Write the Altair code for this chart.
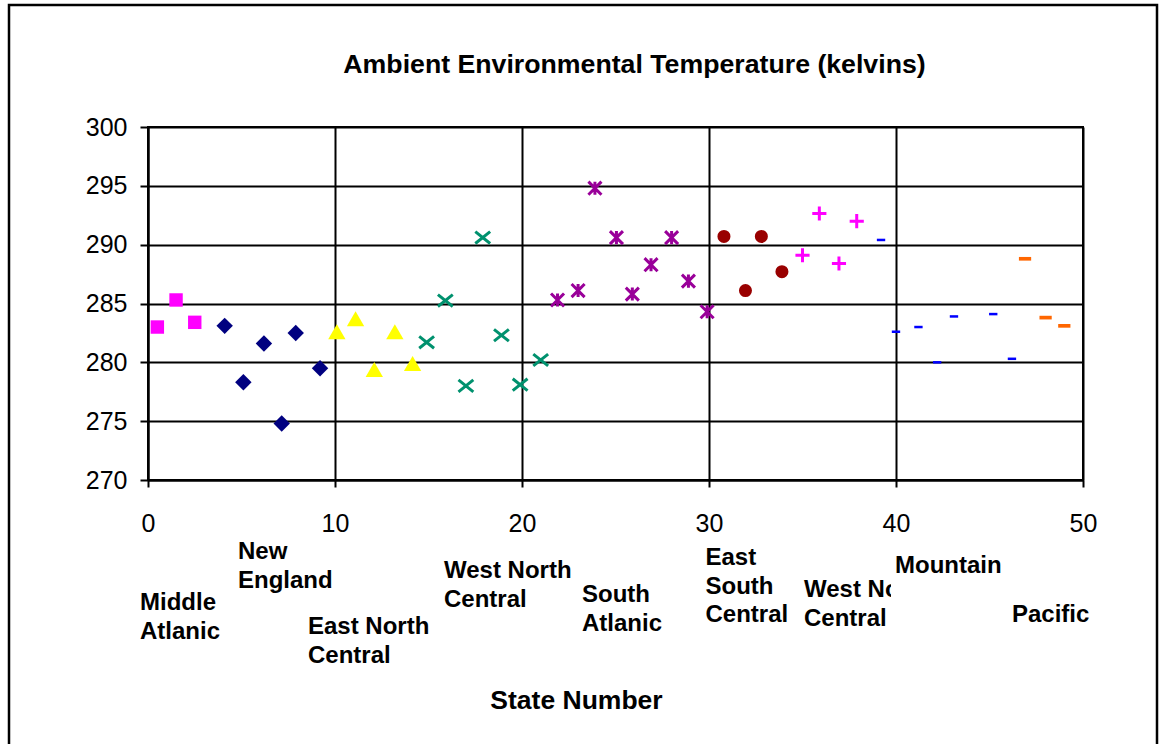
import altair as alt
import pandas as pd

# ---- data (state number, temperature in K) ----
ma_x = [0.5, 1.5, 2.5]
ma_y = [283.0, 285.3, 283.4]
ne_x = [4.1, 5.1, 6.2, 7.15, 7.9, 9.2]
ne_y = [283.1, 278.3, 281.6, 274.8, 282.5, 279.5]
enc_x = [10.1, 11.1, 12.1, 13.2, 14.15]
enc_y = [282.6, 283.7, 279.4, 282.6, 279.9]
wnc_x = [14.9, 15.9, 17.0, 17.9, 18.9, 19.9, 21.0]
wnc_y = [281.7, 285.25, 278.0, 290.6, 282.3, 278.1, 280.2]
sa_x = [21.9, 23.0, 23.9, 25.05, 25.9, 26.9, 28.0, 28.9, 29.9]
sa_y = [285.3, 286.1, 294.8, 290.6, 285.8, 288.3, 290.6, 286.9, 284.3]
esc_x = [30.8, 31.95, 32.8, 33.9]
esc_y = [290.7, 286.1, 290.7, 287.7]
wsc_x = [35.0, 35.9, 36.95, 37.9]
wsc_y = [289.1, 292.65, 288.4, 292.0]
mtn_x = [39.2, 40.0, 41.2, 42.2, 43.1, 45.2, 46.2]
mtn_y = [290.4, 282.6, 283.0, 280.0, 283.9, 284.1, 280.3]
pac_x = [46.9, 48.0, 49.0]
pac_y = [288.8, 283.8, 283.1]

series = ["MA", "NE", "ENC", "WNC", "SA", "ESC", "WSC", "MTN", "PAC"]
xs = [ma_x, ne_x, enc_x, wnc_x, sa_x, esc_x, wsc_x, mtn_x, pac_x]
ys = [ma_y, ne_y, enc_y, wnc_y, sa_y, esc_y, wsc_y, mtn_y, pac_y]
filled_series = ["MA", "NE", "ENC", "ESC", "MTN", "PAC"]
line_series = ["WNC", "SA", "WSC"]

colors = ["#FF00FF", "#000080", "#FFFF00", "#00916E", "#990099",
          "#990000", "#FF00FF", "#0000FF", "#FF6600"]
X_PATH = "M-1,-0.8L1,0.8M-1,0.8L1,-0.8"
AST_PATH = "M-1,-1L1,1M-1,1L1,-1M0,-1L0,1"
PLUS_PATH = "M-1,0L1,0M0,-1L0,1"
DASH_PATH = "M-1,-0.3L1,-0.3L1,0.3L-1,0.3Z"
shapes = ["square", "diamond", "triangle-up", X_PATH, AST_PATH,
          "circle", PLUS_PATH, DASH_PATH, DASH_PATH]
sizes = [180, 270, 300, 220, 170, 170, 200, 70, 150]

rows = []
for s, xx, yy in zip(series, xs, ys):
    for a, b in zip(xx, yy):
        rows.append({"series": s, "state": a, "temp": b})
df = pd.DataFrame(rows)

# region labels (text, left px, first-line baseline px) in page pixels
label_text = ["Middle\nAtlanic", "New\nEngland", "East North\nCentral",
              "West North\nCentral", "South\nAtlanic", "East\nSouth\nCentral",
              "West North\nCentral", "Mountain", "Pacific"]
label_px = [140, 238, 308, 444, 582, 705.5, 804, 895, 1012]
label_py = [610, 559, 634, 578, 602, 565, 597, 573, 622]
OX, OY = 148, 127
labels = pd.DataFrame({"t": label_text,
                       "px": [p - OX for p in label_px],
                       "py": [p - OY for p in label_py]})

FONT = "Liberation Sans"
W, H = 935, 353

x_enc = alt.X("state:Q", scale=alt.Scale(domain=[0, 50], nice=False, zero=False),
              axis=alt.Axis(values=[0, 10, 20, 30, 40, 50], title="State Number",
                            grid=True, gridColor="black", gridWidth=2, gridOpacity=1,
                            domainColor="black", domainWidth=2,
                            tickColor="black", tickWidth=2, tickSize=7,
                            labelFont=FONT, labelFontSize=25, labelColor="black",
                            labelPadding=24, labelFlush=False,
                            titleFont=FONT, titleFontSize=26.5, titleFontWeight="bold",
                            titleColor="black", titleX=428, titleY=228,
                            titleBaseline="alphabetic", titleAnchor="middle", titleAlign="center"))
y_enc = alt.Y("temp:Q", scale=alt.Scale(domain=[270, 300], nice=False, zero=False),
              axis=alt.Axis(values=[270, 275, 280, 285, 290, 295, 300], title=None,
                            grid=True, gridColor="black", gridWidth=2, gridOpacity=1,
                            domainColor="black", domainWidth=2,
                            tickColor="black", tickWidth=2, tickSize=8,
                            labelFont=FONT, labelFontSize=25, labelColor="black",
                            labelPadding=13, labelFlush=False))
common = dict(
    x=x_enc, y=y_enc,
    shape=alt.Shape("series:N", scale=alt.Scale(domain=series, range=shapes), legend=None),
    color=alt.Color("series:N", scale=alt.Scale(domain=series, range=colors), legend=None),
    size=alt.Size("series:N", scale=alt.Scale(type="ordinal", domain=series, range=sizes), legend=None),
)

filled_pts = alt.Chart(df).transform_filter(
    alt.FieldOneOfPredicate(field="series", oneOf=filled_series)
).mark_point(filled=True, opacity=1).encode(**common)

line_pts = alt.Chart(df).transform_filter(
    alt.FieldOneOfPredicate(field="series", oneOf=line_series)
).mark_point(filled=False, opacity=1, strokeWidth=3).encode(**common)

label_layer = alt.Chart(labels).mark_text(
    font=FONT, fontSize=24, fontWeight="bold", color="black", align="left",
    baseline="alphabetic", lineBreak="\n", lineHeight=28.5
).encode(x=alt.X("px:Q", scale=None), y=alt.Y("py:Q", scale=None), text="t:N")

# the Mountain label box hides the end of the second "West North" label
mask = alt.Chart(pd.DataFrame({"a": [0]})).mark_rect(fill="white").encode(
    x=alt.value(891 - OX), x2=alt.value(960 - OX),
    y=alt.value(577 - OY), y2=alt.value(606 - OY))

title_layer = alt.Chart(pd.DataFrame({"t": ["Ambient Environmental Temperature (kelvins)"]})).mark_text(
    font=FONT, fontSize=26.7, fontWeight="bold", color="black", align="center",
    baseline="alphabetic"
).encode(x=alt.value(634.5 - OX), y=alt.value(73 - OY), text="t:N")

border = alt.Chart(pd.DataFrame({"a": [0]})).mark_rect(
    fill="transparent", stroke="black", strokeWidth=2.5
).encode(x=alt.value(9 - OX), x2=alt.value(1157 - OX),
         y=alt.value(5 - OY), y2=alt.value(800 - OY))

chart = alt.layer(border, filled_pts, line_pts, label_layer, mask, title_layer).properties(
    width=W, height=H,
    autosize=alt.AutoSizeParams(type="none"),
    padding={"left": OX, "top": OY, "right": 1160 - OX - W, "bottom": 744 - OY - H},
    background="white",
).configure_view(stroke="black", strokeWidth=2)

chart.save("out.html", embed_options={"renderer": "svg", "actions": False})
